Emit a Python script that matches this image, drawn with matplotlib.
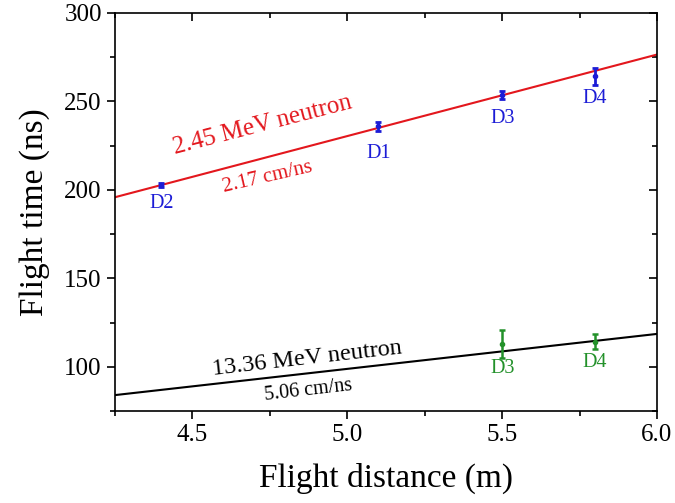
import matplotlib
matplotlib.use('Agg')
import matplotlib.pyplot as plt
from matplotlib.ticker import MultipleLocator
from matplotlib.lines import TICKDOWN, TICKLEFT

plt.rcParams['font.family'] = 'serif'
plt.rcParams['font.serif'] = ['Liberation Serif', 'DejaVu Serif']
for a in ('xtick', 'ytick'):
    plt.rcParams[a + '.direction'] = 'out'
    plt.rcParams[a + '.major.width'] = 1.2
    plt.rcParams[a + '.minor.width'] = 1.2
    plt.rcParams[a + '.major.size'] = 6
    plt.rcParams[a + '.minor.size'] = 3.5
    plt.rcParams[a + '.labelsize'] = 18
plt.rcParams['xtick.top'] = True
plt.rcParams['ytick.right'] = True
plt.rcParams['axes.linewidth'] = 1.2

# measured detector points (2.45 MeV, blue)
dd_dist = [4.4, 5.1, 5.5, 5.8]
dd_time = [202.8, 236.0, 253.6, 264.2]
dd_err = [1.0, 2.6, 2.5, 4.8]
dd_names = ['D2', 'D1', 'D3', 'D4']

# measured detector points (13.36 MeV, green)
dt_dist = [5.5, 5.8]
dt_time = [112.8, 114.2]
dt_err = [7.9, 4.3]
dt_names = ['D3', 'D4']

# fitted velocities (cm/ns)
v_low = 2.17
v_high = 5.06
line_x = [4.25, 6.0]

x_ticks = [4.5, 5.0, 5.5, 6.0]
x_ticklabels = ['4.5', '5.0', '5.5', '6.0']
y_ticks = [100, 150, 200, 250, 300]
y_ticklabels = ['100', '150', '200', '250', '300']

blue = '#1c1cd6'
green = '#23912a'
red = '#e3171d'

fig = plt.figure(figsize=(6.75, 5.03), dpi=100)
ax = fig.add_axes([0.1704, 0.1829, 0.8029, 0.7913])

ax.plot(line_x, [x * 100 / v_low for x in line_x], color=red, lw=1.5)
ax.plot(line_x, [x * 100 / v_high for x in line_x], color='black', lw=1.5)

ax.errorbar(dd_dist, dd_time, yerr=dd_err, fmt='o', ms=3, color=blue,
            capsize=2.5, elinewidth=2, capthick=2)
ax.errorbar(dt_dist, dt_time, yerr=dt_err, fmt='o', ms=3, color=green,
            capsize=2.5, elinewidth=1.8, capthick=1.8)

# detector labels
dd_lab_y = [192.4, 220.7, 240.5, 251.8]
for x, y, n in zip(dd_dist, dd_lab_y, dd_names):
    ax.text(x, y, n, color=blue, fontsize=14.5, ha='center', va='center')
dt_lab_y = [98.9, 102.3]
for x, y, n in zip(dt_dist, dt_lab_y, dt_names):
    ax.text(x, y, n, color=green, fontsize=14.5, ha='center', va='center')

ax.text(4.725, 236.5, '2.45 MeV neutron', color=red, fontsize=18,
        rotation=14.5, rotation_mode='anchor', ha='center', va='center')
ax.text(4.741, 207.1, '2.17 cm/ns', color=red, fontsize=15,
        rotation=13, rotation_mode='anchor', ha='center', va='center')
ax.text(4.87, 104.5, '13.36 MeV neutron', color='black', fontsize=17.5,
        rotation=6.5, rotation_mode='anchor', ha='center', va='center')
ax.text(4.874, 86.4, '5.06 cm/ns', color='black', fontsize=14.5,
        rotation=6.5, rotation_mode='anchor', ha='center', va='center')

ax.set_xlim(4.25, 6.0)
ax.set_ylim(75, 300)
ax.set_xticks(x_ticks, x_ticklabels)
ax.set_yticks(y_ticks, y_ticklabels)
ax.xaxis.set_minor_locator(MultipleLocator(0.25))
ax.yaxis.set_minor_locator(MultipleLocator(25))

ax.set_xlabel('Flight distance (m)', fontsize=24, labelpad=12)
ax.set_ylabel('Flight time (ns)', fontsize=24, labelpad=10)

fig.canvas.draw()

# top and right ticks point inward (Origin style)
for t in ax.xaxis.get_major_ticks() + ax.xaxis.get_minor_ticks():
    t.tick2line.set_marker(TICKDOWN)
for t in ax.yaxis.get_major_ticks() + ax.yaxis.get_minor_ticks():
    t.tick2line.set_marker(TICKLEFT)

for lab in ax.get_xticklabels() + ax.get_yticklabels():
    lab.set_fontfamily('Liberation Serif')
    lab.set_fontsize(18)

fig.savefig('out.png', dpi=100)
